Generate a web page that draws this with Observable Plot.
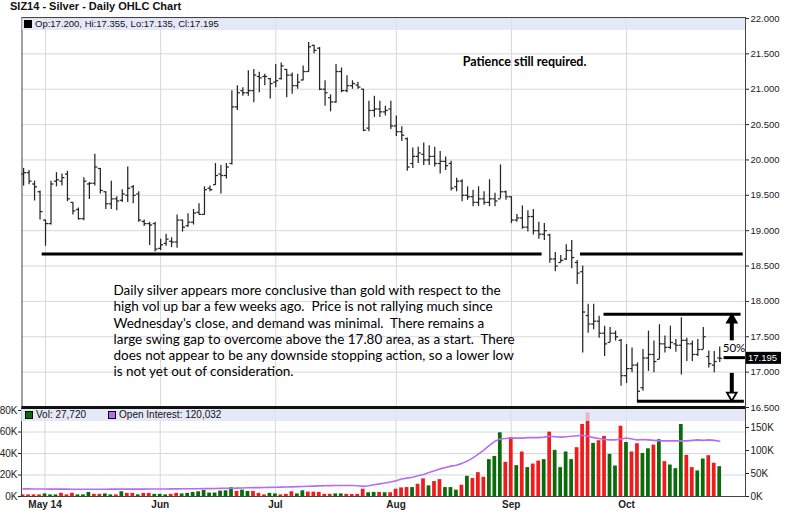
<!DOCTYPE html>
<html><head><meta charset="utf-8">
<script src="https://cdn.jsdelivr.net/npm/d3@7"></script>
<script src="https://cdn.jsdelivr.net/npm/@observablehq/plot@0.6"></script>
<style>
body{margin:0;background:#fff;}
#wrap{position:relative;width:800px;height:513px;overflow:hidden;font-family:"Liberation Sans",Arial,sans-serif;color:#111;}
#wrap svg{position:absolute;left:0;top:0;overflow:visible;}
.band{position:absolute;background:rgba(222,226,244,0.78);font-size:9.5px;line-height:12px;white-space:pre;}
.sq{display:inline-block;width:6px;height:6px;border:1px solid #000;vertical-align:-0.5px;margin-right:3px;}
#title{position:absolute;left:10px;top:0px;font:bold 11px "Liberation Sans",Arial,sans-serif;}
</style></head><body><div id="wrap"><div id="title">SIZ14 - Silver - Daily OHLC Chart</div></div>
<script>
// ---------------- data ----------------
const firstDay = "2014-04-25";
const holidays = ["2014-05-26", "2014-07-04", "2014-09-01"];
const open = [
19.80,19.82,19.66,19.55,19.15,19.10,19.70,19.70,19.80,19.40,
19.30,19.17,19.66,19.67,19.88,19.55,19.38,19.45,19.43,19.50,
19.62,19.52,19.13,19.10,19.10,18.75,18.82,18.85,18.84,19.15,
19.07,19.12,19.26,19.23,19.60,19.65,19.80,19.78,19.95,20.75,
20.98,20.95,20.98,21.18,21.18,21.15,21.10,21.15,21.28,21.20,
21.05,21.13,21.25,21.62,21.58,21.00,20.88,20.82,21.25,20.98,
21.05,21.06,21.00,20.45,20.70,20.72,20.68,20.72,20.48,20.40,
20.30,19.95,20.05,20.08,20.00,20.05,19.95,19.98,19.95,19.62,
19.70,19.50,19.48,19.40,19.45,19.40,19.45,19.45,19.55,19.48,
19.15,19.18,19.05,19.20,19.00,18.95,18.94,18.60,18.55,18.60,
18.72,18.55,18.42,17.80,17.68,17.72,17.55,17.42,17.55,17.45,
16.95,17.05,17.10,16.78,17.20,17.25,17.18,17.40,17.35,17.40,
17.38,17.45,17.40,17.25,17.32,17.22,17.10,17.200];
const high = [
19.88,19.85,19.70,19.56,19.15,19.70,19.82,19.80,19.84,19.40,
19.32,19.75,19.68,20.08,19.88,19.55,19.70,19.48,19.58,19.90,
19.64,19.55,19.15,19.12,19.12,18.88,18.95,18.90,19.22,19.15,
19.24,19.30,19.38,19.62,19.63,19.95,19.92,19.95,20.98,21.05,
21.02,21.26,21.28,21.24,21.21,21.15,21.35,21.37,21.28,21.23,
21.21,21.33,21.66,21.62,21.59,21.12,20.92,21.35,21.30,21.19,
21.12,21.10,21.00,20.83,20.90,20.83,20.76,20.83,20.62,20.47,
20.31,20.17,20.18,20.24,20.20,20.18,20.12,20.04,19.98,19.74,
19.72,19.62,19.57,19.62,19.55,19.72,19.53,19.93,19.56,19.48,
19.23,19.35,19.28,19.30,19.12,19.10,18.95,18.69,18.65,18.80,
18.86,18.58,18.50,17.96,17.96,17.79,17.65,17.63,17.58,17.46,
17.39,17.34,17.13,17.32,17.58,17.44,17.67,17.51,17.65,17.46,
17.77,17.48,17.44,17.46,17.63,17.30,17.29,17.355];
const low = [
19.63,19.65,19.42,19.15,18.78,19.08,19.62,19.63,19.41,19.22,
19.15,19.14,19.44,19.63,19.52,19.30,19.30,19.28,19.40,19.40,
19.38,19.12,19.06,18.79,18.70,18.72,18.78,18.76,18.75,18.98,
19.05,19.08,19.22,19.22,19.55,19.64,19.52,19.73,19.93,20.70,
20.90,20.90,20.81,20.95,21.05,20.86,21.02,21.13,20.88,20.93,
21.00,21.12,21.24,21.50,20.98,20.76,20.68,20.80,20.95,20.95,
21.00,21.00,20.40,20.40,20.60,20.60,20.62,20.43,20.33,20.26,
19.84,19.88,19.95,19.92,19.92,19.90,19.80,19.85,19.56,19.55,
19.41,19.43,19.34,19.34,19.36,19.34,19.34,19.45,19.43,19.10,
19.12,19.02,18.98,18.94,18.88,18.86,18.54,18.42,18.55,18.58,
18.46,18.24,17.27,17.55,17.60,17.48,17.22,17.42,17.44,16.80,
16.84,16.99,16.58,16.73,17.01,16.99,17.18,17.27,17.32,17.28,
16.96,17.15,17.15,17.22,17.32,17.06,16.99,17.135];
const close = [
19.82,19.70,19.62,19.27,19.10,19.66,19.72,19.75,19.45,19.28,
19.17,19.70,19.67,19.90,19.57,19.38,19.45,19.42,19.52,19.60,
19.50,19.15,19.10,19.08,18.74,18.80,18.88,18.84,19.15,19.05,
19.12,19.25,19.23,19.58,19.58,19.78,19.78,19.90,20.75,20.95,
20.95,20.98,21.20,21.16,21.18,21.08,21.12,21.33,21.20,21.05,
21.10,21.25,21.60,21.55,21.00,20.95,20.82,21.25,20.98,21.05,
21.08,21.03,20.42,20.70,20.72,20.68,20.70,20.48,20.40,20.35,
19.90,20.05,20.10,20.00,20.05,19.95,19.98,19.92,19.60,19.70,
19.50,19.48,19.40,19.45,19.40,19.45,19.42,19.55,19.48,19.15,
19.18,19.05,19.20,19.00,18.95,19.00,18.60,18.50,18.58,18.72,
18.62,18.40,17.85,17.68,17.72,17.55,17.40,17.55,17.50,16.95,
17.05,17.10,16.73,17.20,17.25,17.15,17.40,17.35,17.42,17.38,
17.45,17.40,17.25,17.32,17.50,17.12,17.15,17.195];
// volume in thousands (left axis) and up/down colour of each volume bar
const volumeK = [
1.5,1.5,1.5,1.5,2.4,1.5,1.5,3.0,1.5,3.0,
1.5,1.5,3.8,2.0,2.0,2.4,1.5,1.5,4.4,2.9,
2.9,1.5,2.9,2.9,2.0,2.0,1.5,2.0,2.9,2.4,
2.9,3.8,4.4,5.6,3.2,3.2,5.0,5.3,8.2,4.7,
5.9,4.7,4.7,2.9,1.5,2.9,2.4,1.5,2.0,4.4,
2.4,5.3,4.1,4.1,3.8,2.0,2.0,2.4,2.4,2.0,
1.8,2.0,6.8,3.5,3.8,3.8,3.5,3.5,6.8,
8.0,8.3,8.3,11.4,16.4,9.9,13.9,15.7,8.3,8.3,
5.9,10.5,18.8,16.7,22.2,17.9,34.3,37.3,59.3,31.8,
54.9,28.7,41.4,26.9,30.2,33.0,34.3,59.9,42.9,26.9,
41.4,34.3,45.4,67.0,77.8,49.4,51.9,55.9,39.2,28.4,
65.4,50.3,41.4,49.1,40.1,44.4,47.8,52.8,32.4,29.3,
25.9,67.0,38.3,26.9,23.8,34.9,38.0,30.9,27.72];
const volumeDir = (
"d d d d u u u d d d u u u d d u u d u d " +
"d u d d u u u d d u u u u u u u u u u d " +
"u u d d d u u d d d u u d d d d d u u d " +
"d d d u u d u d d " +
"d d u d d u d d u u u d u d d d u u u d " +
"d u d u d d u d u u u u d d d u d d u u " +
"d u d d u u d u d u u u d d u u d d u").trim().split(" ");
// open interest in thousands (right axis)
const openInterestK = [
16.5,16.5,16.4,16.3,16.2,16.1,16.0,16.0,16.0,15.9,15.8,15.8,15.8,15.8,15.8,15.9,16.0,16.0,16.0,16.0,16.0,16.0,16.1,16.2,16.3,
16.3,16.4,16.5,16.6,16.7,16.8,16.9,17.0,17.1,17.2,17.4,17.6,17.8,18.0,18.3,18.6,18.9,19.2,19.4,19.6,19.8,20.0,
20.3,20.6,21.0,21.4,21.8,22.2,22.6,23.0,23.3,23.6,23.8,24.0,24.0,24.0,23.5,
22.0,23.5,25.5,27.5,29.5,31.5,34.0,
38,40,42,45,48,52,56,60,63,66,68,72,77,84,92,101,111,120,125,
126,127,127,127,128,128,128,129,131,130,129,130,131,132,133,131,128,126,124,123,
123,125,127,125,123,124,123,122,121,121,121,121,121,121,122,123,122,123,122,120.032];
const monthStarts = ["2014-05-01", "2014-06-02", "2014-07-01", "2014-08-01", "2014-09-02", "2014-10-01"];
const monthLabels = ["May 14", "Jun", "Jul", "Aug", "Sep", "Oct"];
const priceTicks = [16.5, 17, 17.5, 18, 18.5, 19, 19.5, 20, 20.5, 21, 21.5, 22];
const volTicks = [0, 20, 40, 60, 80];
const oiTicks = [0, 50, 100, 150];
// drawn-in annotations (trading-day index, price)
const levelT1 = [3.3, 101.5, 105.8, 111.9, 127.7];
const levelT2 = [94.5, 131.2, 130.8, 131.4, 131.6];
const levelP  = [18.67, 18.67, 17.82, 16.59, 17.205];
const arrowT = [129.2, 129.2];
const arrowFrom = [17.45, 16.99];
const arrowTo = [17.72, 16.69];
const arrowHeadP = [17.74, 16.67];
const arrowHeadRotate = [0, 180];
const arrowHeadFill = ["#000", "#fff"];
const noteText = [
"Daily silver appears more conclusive than gold with respect to the\nhigh vol up bar a few weeks ago.\u00a0 Price is not rallying much since\nWednesday's close, and demand was minimal.\u00a0 There remains a\nlarge swing gap to overcome above the 17.80 area, as a start.\u00a0 There\ndoes not appear to be any downside stopping action, so a lower low\nis not yet out of consideration.",
"Patience still required.",
"50%"];
const noteT = [16.4, 91.4, 129.6];
const noteP = [18.25, 21.38, 17.33];

// ---------------- build ----------------
const days = [];
for (let d = new Date(firstDay + "T00:00:00Z"); days.length < open.length; d = new Date(d.getTime() + 864e5)) {
  const wd = d.getUTCDay(), key = d.toISOString().slice(0, 10);
  if (wd !== 0 && wd !== 6 && !holidays.includes(key)) days.push(key);
}
const tOf = new Map(days.map((k, t) => [k, t]));
const monthT = monthStarts.map(k => tOf.get(k));
const N = open.length;
const bars = d3.range(N).map(t => ({t, date: days[t], open: open[t], high: high[t], low: low[t], close: close[t],
  vol: volumeK[t], up: volumeDir[t] === "u", oi: openInterestK[t]}));
const levels = levelP.map((p, k) => ({t1: levelT1[k], t2: levelT2[k], p}));
const arrows = arrowT.map((t, k) => ({t, from: arrowFrom[k], to: arrowTo[k], head: arrowHeadP[k], rot: arrowHeadRotate[k], fill: arrowHeadFill[k]}));
const notes = noteText.map((text, k) => ({text, t: noteT[k], p: noteP[k]}));

const xDomain = [-0.29, 131.7];
const grid = "#d7d7de";
const barInk = "#262626";
const tk = 0.45;
const base = {width: 800, height: 513, marginLeft: 21.5, marginRight: 55};

const price = Plot.plot({
  ...base, marginTop: 17, marginBottom: 106,
  style: {background: "transparent", fontFamily: "Liberation Sans, Arial, sans-serif", fontSize: "9.5px", color: "#222"},
  x: {domain: xDomain, axis: null},
  y: {domain: [16.5, 22.014], axis: "right", ticks: priceTicks, tickFormat: d3.format(".3f"), tickSize: 3, tickPadding: 2, label: null},
  marks: [
    Plot.ruleY(priceTicks, {stroke: grid}),
    Plot.ruleX(monthT, {stroke: grid}),
    Plot.ruleX(bars, {x: "t", y1: "low", y2: "high", stroke: barInk, strokeWidth: 1.25}),
    Plot.link(bars, {x1: d => d.t - tk, x2: "t", y1: "open", y2: "open", stroke: barInk, strokeWidth: 1.25}),
    Plot.link(bars, {x1: "t", x2: d => d.t + tk, y1: "close", y2: "close", stroke: barInk, strokeWidth: 1.25}),
    Plot.link(levels, {x1: "t1", x2: "t2", y1: "p", y2: "p", stroke: "#000", strokeWidth: 3}),
    Plot.link(arrows, {x1: "t", x2: "t", y1: "from", y2: "to", stroke: "#000", strokeWidth: 4}),
    Plot.dot(arrows, {x: "t", y: "head", symbol: "triangle", r: 3.6, rotate: "rot", fill: "fill", stroke: "#000", strokeWidth: 1.8}),
    Plot.text(notes.slice(0, 1), {x: "t", y: "p", text: "text", textAnchor: "start", lineAnchor: "top", lineHeight: 1.2,
      fontSize: 13.5, fontFamily: "Lato, sans-serif", fill: "#000"}),
    Plot.text(notes.slice(1, 2), {x: "t", y: "p", text: "text", fontSize: 12.5, fontWeight: "bold", fontFamily: "Lato, sans-serif", fill: "#000"}),
    Plot.text(notes.slice(2, 3), {x: "t", y: "p", text: "text", fontSize: 11.5, fontFamily: "Lato, sans-serif", fill: "#000"}),
    Plot.frame({stroke: "#444"}),
    Plot.ruleY([16.5], {stroke: "#111", strokeWidth: 3})
  ]
});

const volume = Plot.plot({
  ...base, marginLeft: 21, marginTop: 408, marginBottom: 17,
  style: {background: "transparent", fontFamily: "Liberation Sans, Arial, sans-serif", fontSize: "10px", color: "#222"},
  x: {domain: xDomain, ticks: monthT, tickFormat: d => monthLabels[monthT.indexOf(d)], tickSize: 0, tickPadding: 4, label: null},
  y: {domain: [0, 81.9], axis: "left", ticks: volTicks, tickFormat: d => d + "K", tickSize: 3, tickPadding: 1, label: null},
  marks: [
    Plot.ruleY(volTicks.slice(1, 4), {stroke: grid}),
    Plot.ruleX(monthT, {stroke: grid}),
    Plot.rectY(bars, {x1: d => d.t - 0.34, x2: d => d.t + 0.34, y: "vol", fill: d => d.up ? "#0b6a0b" : "#f21b1b"}),
    Plot.frame({stroke: "#444"})
  ]
});

const oi = Plot.plot({
  ...base, marginLeft: 21, marginTop: 408, marginBottom: 17,
  style: {background: "transparent", fontFamily: "Liberation Sans, Arial, sans-serif", fontSize: "10px", color: "#222"},
  x: {domain: xDomain, axis: null},
  y: {domain: [0, 191.3], axis: "right", ticks: oiTicks, tickFormat: d => d + "K", tickSize: 3, tickPadding: 2, label: null},
  marks: [
    Plot.line(bars, {x: "t", y: "oi", stroke: "#b56ef3", strokeWidth: 1.6})
  ]
});

const wrap = document.getElementById("wrap");
wrap.append(volume, oi, price);

// bold month labels
volume.querySelectorAll('[aria-label^="x-axis"] text').forEach(t => { t.setAttribute("font-weight", "bold"); });

// last-price marker on the right axis
const ys = price.scale("y");
const last = N - 1;
const yy = ys.apply(close[last]);
const svg = d3.select(price);
const boxX = base.width - base.marginRight + 1;
svg.append("rect").attr("x", boxX).attr("y", yy - 6).attr("width", 35).attr("height", 12).attr("fill", "#000");
svg.append("text").attr("x", boxX + 2).attr("y", yy).attr("dy", "0.35em").attr("text-anchor", "start")
  .attr("fill", "#fff").attr("font-size", "9.5px").text(close[last].toFixed(3));

// legend bands
const fmt3 = d3.format(".3f"), fmtInt = d3.format(",");
const b1 = document.createElement("div");
b1.className = "band";
Object.assign(b1.style, {left: "22px", top: "18px", width: "723px", height: "12px"});
b1.innerHTML = `<span class="sq" style="background:#000;margin-left:2px"></span>Op:${fmt3(open[last])}, Hi:${fmt3(high[last])}, Lo:${fmt3(low[last])}, Cl:${fmt3(close[last])}`;
const b2 = document.createElement("div");
b2.className = "band";
Object.assign(b2.style, {left: "21px", top: "409px", width: "724px", height: "12px", fontSize: "10px"});
b2.innerHTML = `<span class="sq" style="background:#0b6a0b;margin-left:4px"></span>Vol: ${fmtInt(Math.round(volumeK[last] * 1000))}<span class="sq" style="background:#b56ef3;margin-left:22px"></span>Open Interest: ${fmtInt(Math.round(openInterestK[last] * 1000))}`;
wrap.append(b1, b2);
</script></body></html>
